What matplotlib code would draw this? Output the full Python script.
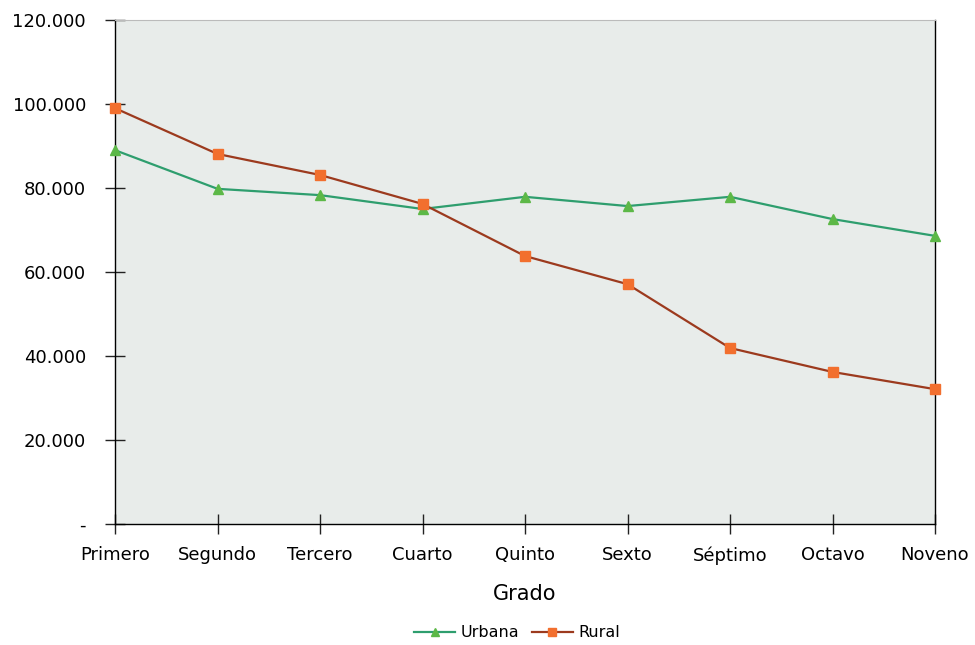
import numpy as np
import matplotlib.pyplot as plt
from matplotlib.ticker import FuncFormatter

# data
grados = ['Primero', 'Segundo', 'Tercero', 'Cuarto', 'Quinto',
          'Sexto', 'Séptimo', 'Octavo', 'Noveno']
urbana = [89000, 79800, 78300, 75000, 77900, 75700, 77900, 72600, 68600]
rural = [99000, 88100, 83100, 76200, 63800, 57100, 41900, 36200, 32100]

plt.rcParams['font.family'] = ['DejaVu Sans']

fig = plt.figure(figsize=(9.75, 6.45), dpi=100)
ax = fig.add_axes([0.118, 0.1876, 0.841, 0.7814])

ax.set_facecolor('#e8ecea')

x = np.arange(len(grados))
ax.plot(x, urbana, color='#2e9e6e', lw=1.6, marker='^', ms=7.5,
        mfc='#5cb847', mec='#5cb847', label='Urbana', clip_on=False, zorder=3)
ax.plot(x, rural, color='#9c3a1e', lw=1.6, marker='s', ms=7.5,
        mfc='#f26f2e', mec='#f26f2e', label='Rural', clip_on=False, zorder=4)

ax.set_xlim(0, len(grados) - 1)
ax.set_ylim(0, 120000)
ax.set_xticks(x)
ax.set_xticklabels(grados)
ax.set_yticks(np.arange(0, 120001, 20000))

def miles(v, pos):
    if v == 0:
        return '-'
    return '{:,.0f}'.format(v).replace(',', '.')

ax.yaxis.set_major_formatter(FuncFormatter(miles))
ax.tick_params(axis='both', direction='inout', length=14, width=1.0,
               labelsize=13, color='#222222')
ax.tick_params(axis='x', pad=9)
ax.tick_params(axis='y', pad=14)

for s in ['left', 'bottom', 'right']:
    ax.spines[s].set_color('black')
    ax.spines[s].set_linewidth(1.0)
ax.spines['top'].set_color('#bbbbbb')
ax.spines['top'].set_linewidth(0.8)

ax.set_xlabel('Grado', fontsize=15, labelpad=14)

leg = fig.legend(loc='lower center', bbox_to_anchor=(0.53, -0.015), ncol=2,
                 frameon=False, fontsize=11.5, handlelength=2.6,
                 columnspacing=0.8, handletextpad=0.3, markerscale=0.75)

fig.savefig('out.png', dpi=100)
